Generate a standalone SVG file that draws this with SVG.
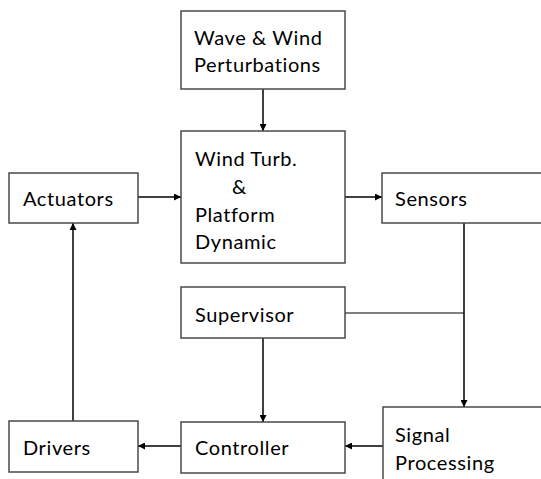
<svg xmlns="http://www.w3.org/2000/svg" width="541" height="479" viewBox="0 0 541 479">
<style>
.box{fill:#fff;stroke:#4a4a4a;stroke-width:1.5}
.t{font-family:Lato,"Open Sans","Liberation Sans",sans-serif;font-size:20px;letter-spacing:0.6px;fill:#000}
.c{stroke:#000;stroke-width:1.5;fill:none}
.g{stroke:#555;stroke-width:1.5;fill:none}
</style>
<defs>
<marker id="a" viewBox="0 0 10 10" refX="10" refY="5" markerWidth="7" markerHeight="7" markerUnits="userSpaceOnUse" orient="auto"><path d="M0,0L10,5L0,10z" fill="#000"/></marker>
</defs>
<rect width="541" height="479" fill="#fff"/>
<g id="connectors">
<line class="c" x1="263" y1="89" x2="263" y2="131" marker-end="url(#a)"/>
<line class="c" x1="138" y1="197" x2="181" y2="197" marker-end="url(#a)"/>
<line class="c" x1="345" y1="197" x2="382" y2="197" marker-end="url(#a)"/>
<line class="c" x1="73" y1="421" x2="73" y2="223" marker-end="url(#a)"/>
<line class="c" x1="181" y1="446" x2="138" y2="446" marker-end="url(#a)"/>
<line class="c" x1="383" y1="446" x2="345" y2="446" marker-end="url(#a)"/>
<line class="c" x1="263" y1="338" x2="263" y2="422" marker-end="url(#a)"/>
<line class="g" x1="345" y1="313" x2="464" y2="313"/>
<line class="c" x1="464" y1="223" x2="464" y2="407" marker-end="url(#a)"/>
</g>
<g id="wave"><rect class="box" x="181" y="11" width="164" height="78"/><text class="t" x="194" y="45">Wave &amp; Wind</text><text class="t" x="194" y="72">Perturbations</text></g>
<g id="platform"><rect class="box" x="181" y="131" width="164" height="132"/><text class="t" x="195" y="166">Wind Turb.</text><text class="t" x="232" y="194">&amp;</text><text class="t" x="195" y="222">Platform</text><text class="t" x="195" y="249">Dynamic</text></g>
<g id="actuators"><rect class="box" x="9" y="173" width="129" height="50"/><text class="t" x="23" y="206">Actuators</text></g>
<g id="sensors"><rect class="box" x="382" y="173" width="170" height="50"/><text class="t" x="395" y="206">Sensors</text></g>
<g id="supervisor"><rect class="box" x="181" y="287" width="164" height="51"/><text class="t" x="195" y="322">Supervisor</text></g>
<g id="drivers"><rect class="box" x="9" y="421" width="129" height="51"/><text class="t" x="23" y="455">Drivers</text></g>
<g id="controller"><rect class="box" x="181" y="422" width="164" height="51"/><text class="t" x="195" y="455">Controller</text></g>
<g id="signal"><rect class="box" x="383" y="407" width="170" height="80"/><text class="t" x="395" y="442">Signal</text><text class="t" x="395" y="470">Processing</text></g>
</svg>
